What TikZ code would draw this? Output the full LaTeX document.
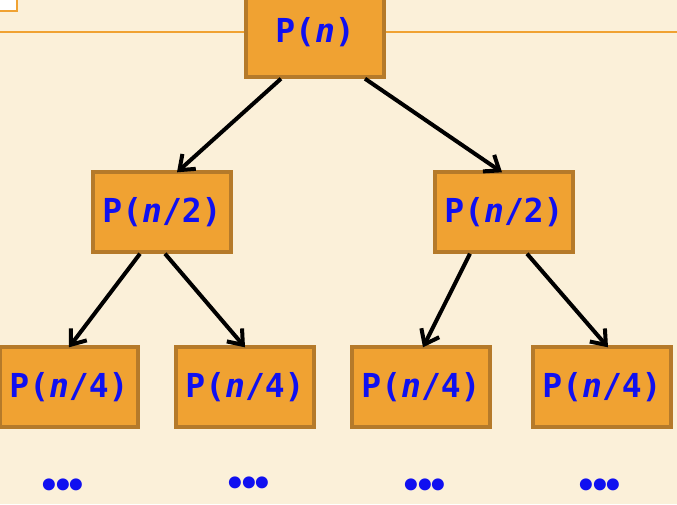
\documentclass[tikz,border=0pt]{standalone}
\usepackage{fontspec}
\usetikzlibrary{arrows.meta}
\newfontfamily\boxfont{DejaVu Sans Mono}
\newfontfamily\dotfont{DejaVu Sans}
\definecolor{bgcol}{HTML}{FBF0D9}
\definecolor{boxfill}{HTML}{F0A232}
\definecolor{boxline}{HTML}{B57A2A}
\definecolor{linecol}{HTML}{F0A232}
\definecolor{txtblue}{HTML}{1010F0}
\begin{document}
\begin{tikzpicture}[x=1pt,y=-1pt,
  pbox/.style={draw=boxline,line width=3.4pt,fill=boxfill,minimum width=138pt,minimum height=80pt,inner sep=0pt,
    font=\fontsize{33}{35}\boxfont\bfseries,text=txtblue},
  arr/.style={line width=4pt,-{Straight Barb[length=13pt,width=20pt,line width=4pt]}},
  dots/.style={font=\fontsize{34}{36}\dotfont\bfseries,text=txtblue,inner sep=0pt}]
\useasboundingbox (0,0) rectangle (677,504);
\clip (0,0) rectangle (677,504);
\fill[bgcol] (0,0) rectangle (677,504);
\draw[linecol,line width=2.4pt] (0,32) -- (677,32);
\draw[linecol,line width=2.8pt,fill=white] (-5,-5) rectangle (17,11);
\node[pbox,minimum height=90pt] (top) at (315,32) {P(\textit{n})};
\node[pbox] (l) at (162,212) {P(\textit{n}/2)};
\node[pbox] (r) at (504,212) {P(\textit{n}/2)};
\node[pbox] (ll) at (69,387) {P(\textit{n}/4)};
\node[pbox] (lr) at (245,387) {P(\textit{n}/4)};
\node[pbox] (rl) at (421,387) {P(\textit{n}/4)};
\node[pbox] (rr) at (602,387) {P(\textit{n}/4)};
\draw[arr] ([xshift=-34pt]top.south) -- ([xshift=15pt,yshift=-2pt]l.north);
\draw[arr] ([xshift=50pt]top.south) -- ([xshift=-2pt,yshift=-2pt]r.north);
\draw[arr] ([xshift=-22pt]l.south) -- ([yshift=-2pt]ll.north);
\draw[arr] ([xshift=3pt]l.south) -- ([yshift=-2pt]lr.north);
\draw[arr] ([xshift=-34pt]r.south) -- ([xshift=2pt,yshift=-2pt]rl.north);
\draw[arr] ([xshift=23pt]r.south) -- ([xshift=6pt,yshift=-2pt]rr.north);
\node[dots] (d1) at (63,488) {•\kern-8.5pt•\kern-8.5pt•};
\node[dots] (d2) at (249,486) {•\kern-8.5pt•\kern-8.5pt•};
\node[dots] (d3) at (425,488) {•\kern-8.5pt•\kern-8.5pt•};
\node[dots] (d4) at (600,488) {•\kern-8.5pt•\kern-8.5pt•};
\end{tikzpicture}
\end{document}
